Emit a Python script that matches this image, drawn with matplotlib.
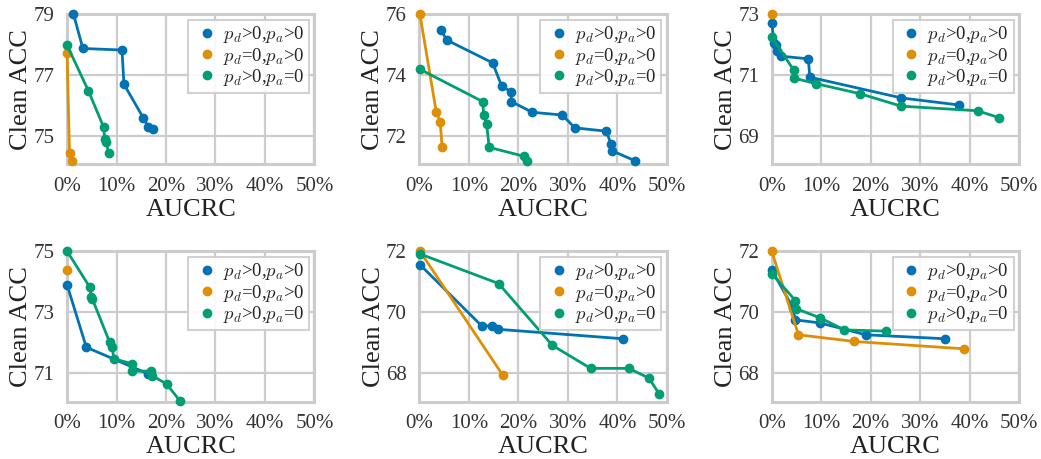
import numpy as np
import matplotlib
matplotlib.use("Agg")
import matplotlib.pyplot as plt
from matplotlib.ticker import PercentFormatter
from matplotlib.lines import Line2D
import seaborn as sns

# AUCRC in percent, clean accuracy
p1_blue_x = [1.3, 3.2, 11.1, 11.5, 15.4, 16.4, 17.4]
p1_blue_y = [79.0, 77.87, 77.82, 76.7, 75.6, 75.3, 75.22]
p1_orange_x = [0.0, 0.5, 1.1]
p1_orange_y = [77.73, 74.45, 74.18]
p1_green_x = [0.0, 4.3, 7.4, 7.6, 7.8, 8.5]
p1_green_y = [77.98, 76.49, 75.29, 74.89, 74.81, 74.43]

p2_blue_x = [4.4, 5.5, 14.8, 16.6, 18.5, 18.6, 22.8, 28.9, 31.4, 37.8, 38.7, 38.9, 43.6]
p2_blue_y = [75.48, 75.15, 74.4, 73.65, 73.45, 73.13, 72.78, 72.69, 72.27, 72.16, 71.74, 71.52, 71.19]
p2_orange_x = [0.1, 3.4, 4.2, 4.6]
p2_orange_y = [76.0, 72.8, 72.47, 71.63]
p2_green_x = [0.1, 12.8, 13.0, 13.6, 14.1, 21.1, 21.8]
p2_green_y = [74.19, 73.13, 72.69, 72.38, 71.63, 71.34, 71.19]

p3_blue_x = [0.0, 0.5, 0.8, 1.1, 1.8, 7.4, 7.7, 26.2, 37.8]
p3_blue_y = [72.7, 72.06, 71.98, 71.8, 71.62, 71.53, 70.93, 70.25, 70.02]
p3_orange_x = [0.0]
p3_orange_y = [73.0]
p3_green_x = [0.0, 4.5, 4.5, 8.9, 17.8, 26.2, 41.6, 46.0]
p3_green_y = [72.24, 71.15, 70.9, 70.72, 70.39, 69.98, 69.83, 69.6]

p4_blue_x = [0.0, 3.9, 16.4]
p4_blue_y = [73.9, 71.85, 70.98]
p4_orange_x = [0.0]
p4_orange_y = [74.37]
p4_green_x = [0.0, 4.6, 4.9, 5.1, 8.6, 9.1, 9.5, 13.2, 13.2, 17.0, 17.2, 20.1, 22.8]
p4_green_y = [75.0, 73.82, 73.5, 73.44, 72.02, 71.85, 71.47, 71.31, 71.07, 71.07, 70.92, 70.65, 70.1]

p5_blue_x = [0.1, 12.6, 14.6, 15.9, 41.1]
p5_blue_y = [71.56, 69.55, 69.55, 69.44, 69.13]
p5_orange_x = [0.1, 16.8]
p5_orange_y = [72.0, 67.95]
p5_green_x = [0.1, 16.0, 26.9, 34.6, 42.3, 46.4, 48.5]
p5_green_y = [71.91, 70.94, 68.91, 68.16, 68.16, 67.84, 67.31]

p6_blue_x = [0.0, 4.3, 4.7, 9.7, 19.0, 35.0]
p6_blue_y = [71.39, 70.14, 69.75, 69.65, 69.26, 69.13]
p6_orange_x = [0.0, 5.4, 16.7, 38.9]
p6_orange_y = [72.0, 69.26, 69.04, 68.8]
p6_green_x = [0.0, 4.8, 5.0, 9.7, 14.7, 23.0]
p6_green_y = [71.26, 70.38, 70.11, 69.82, 69.42, 69.38]

y_tops = [79, 76, 73, 75, 72, 72]
x_ticks = [0, 10, 20, 30, 40, 50]
labels = [r"$p_d$>0,$p_a$>0", r"$p_d$=0,$p_a$>0", r"$p_d$>0,$p_a$=0"]

panels = [
    (p1_blue_x, p1_blue_y, p1_orange_x, p1_orange_y, p1_green_x, p1_green_y),
    (p2_blue_x, p2_blue_y, p2_orange_x, p2_orange_y, p2_green_x, p2_green_y),
    (p3_blue_x, p3_blue_y, p3_orange_x, p3_orange_y, p3_green_x, p3_green_y),
    (p4_blue_x, p4_blue_y, p4_orange_x, p4_orange_y, p4_green_x, p4_green_y),
    (p5_blue_x, p5_blue_y, p5_orange_x, p5_orange_y, p5_green_x, p5_green_y),
    (p6_blue_x, p6_blue_y, p6_orange_x, p6_orange_y, p6_green_x, p6_green_y),
]

sns.set_theme(style="whitegrid", palette="colorblind")
plt.rcParams["font.family"] = ["Liberation Serif", "DejaVu Serif"]
plt.rcParams["mathtext.fontset"] = "cm"
colors = sns.color_palette("colorblind")[:3]

fig, axes = plt.subplots(2, 3, figsize=(10.41, 4.59), dpi=100)
fig.subplots_adjust(left=0.0644, right=0.979, top=0.9695, bottom=0.125, wspace=0.424, hspace=0.576)

for ax, data, top in zip(axes.flat, panels, y_tops):
    for i in range(3):
        ax.plot(data[2 * i], data[2 * i + 1], "-o", color=colors[i], lw=2, ms=6, clip_on=False, zorder=3)
    ax.set_xlim(0, 50)
    ax.set_ylim(top - 4.93, top)
    ax.set_xticks(x_ticks)
    ax.set_yticks([top - 4, top - 2, top])
    ax.xaxis.set_major_formatter(PercentFormatter(decimals=0))
    ax.tick_params(labelsize=15, colors="#333333", pad=3)
    ax.set_xlabel("AUCRC", fontsize=19, color="#222222", labelpad=2)
    ax.set_ylabel("Clean ACC", fontsize=19, color="#222222", labelpad=1)
    ax.grid(True, color="#cccccc", lw=1.6)
    for s in ax.spines.values():
        s.set_color("#cccccc")
        s.set_linewidth(2.2)
    handles = [Line2D([], [], marker="o", ls="", color=c, ms=6) for c in colors]
    leg = ax.legend(handles, labels, loc="upper right", fontsize=13.5, fancybox=False,
                    handletextpad=0.1, borderaxespad=0.3, labelspacing=0.02,
                    handlelength=1.5, borderpad=0.25, framealpha=0.9)
    leg.get_frame().set_edgecolor("#cccccc")
    leg.get_frame().set_linewidth(1.5)

fig.savefig("out.png", dpi=100)
